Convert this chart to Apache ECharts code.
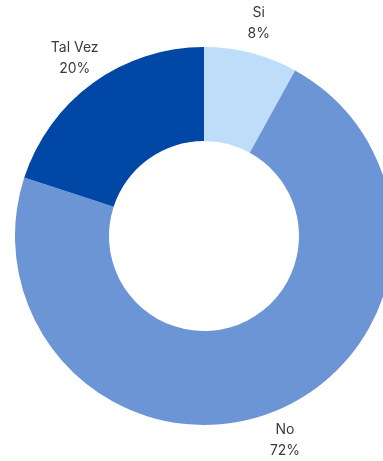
<!DOCTYPE html>
<html>
<head>
<meta charset="utf-8">
<script src="https://cdn.jsdelivr.net/npm/echarts@6/dist/echarts.min.js"></script>
<style>html,body{margin:0;padding:0;background:#fff}#c{width:383px;height:461px}</style>
</head>
<body>
<div id="c"></div>
<script>
const categories = ['Si', 'No', 'Tal Vez'];
const values = [8, 72, 20];
const colors = ['#BEDDF8', '#6C95D5', '#0047A6'];

const W = 383, H = 461;
const cx = 204, cy = 236, rIn = 95, rOut = 189, labelR = 220;
const total = values.reduce((a, b) => a + b, 0);

const chart = echarts.init(document.getElementById('c'), null, {renderer: 'canvas'});
chart.setOption({
  animation: false,
  series: [{
    type: 'pie',
    center: [cx, cy],
    radius: [rIn, rOut],
    startAngle: 90,
    clockwise: true,
    avoidLabelOverlap: false,
    data: categories.map((c, i) => ({name: c, value: values[i], itemStyle: {color: colors[i]}})),
    label: {
      show: true,
      position: 'outside',
      formatter: p => p.name + '\n' + Math.round(p.value / total * 100) + '%',
      fontFamily: 'Inter, sans-serif',
      fontSize: 14,
      lineHeight: 21,
      color: '#3a3a3a',
      align: 'center'
    },
    labelLine: {show: false},
    labelLayout: function (p) {
      let before = 0;
      for (let i = 0; i < p.dataIndex; i++) before += values[i];
      const mid = before + values[p.dataIndex] / 2;
      const ang = (90 - mid / total * 360) * Math.PI / 180;
      return {
        x: cx + labelR * Math.cos(ang),
        y: cy - labelR * Math.sin(ang),
        align: 'center',
        verticalAlign: 'middle'
      };
    },
    emphasis: {disabled: true}
  }]
});
</script>
</body>
</html>
